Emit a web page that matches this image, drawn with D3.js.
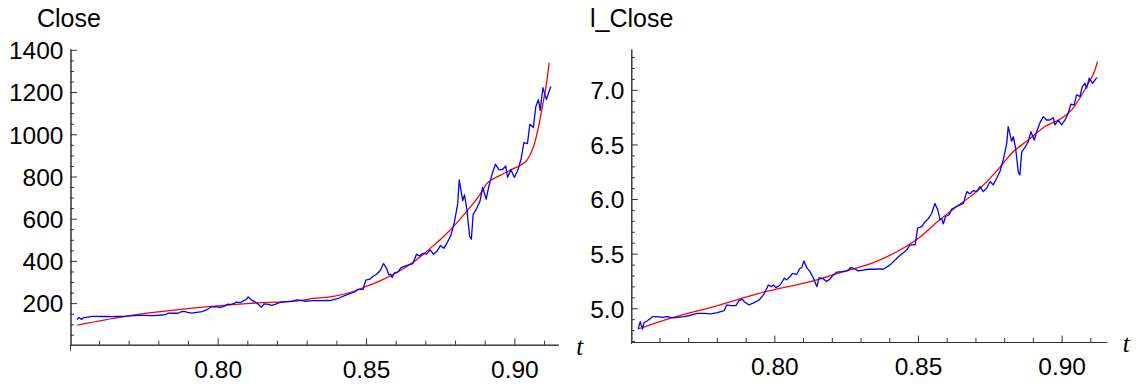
<!DOCTYPE html>
<html>
<head>
    <title>Close / l_Close</title>
    <script src="https://d3js.org/d3.v7.min.js"></script>
    <style>
        body { margin: 0; background: #fff; }
        text { font-family: "Liberation Sans", Arial, sans-serif; }
    </style>
</head>
<body>
    <svg width="1139" height="384"></svg>
    <script>
        // t of each reading of the blue series
        const tObs = [0.7526, 0.7533, 0.7541, 0.7547, 0.7558, 0.7576, 0.7593, 0.7610, 0.7628, 0.7645,
            0.7663, 0.7686, 0.7709, 0.7732, 0.7755, 0.7779, 0.7802, 0.7825, 0.7834, 0.7848,
            0.7866, 0.7877, 0.7889, 0.7895, 0.7912, 0.7929, 0.7947, 0.7962, 0.7974, 0.7979,
            0.7989, 0.7997, 0.8005, 0.8020, 0.8035, 0.8043, 0.8055, 0.8063, 0.8078, 0.8089,
            0.8095, 0.8103, 0.8113, 0.8124, 0.8136, 0.8148, 0.8156, 0.8171, 0.8182, 0.8194,
            0.8205, 0.8217, 0.8235, 0.8252, 0.8267, 0.8281, 0.8292, 0.8310, 0.8327, 0.8345,
            0.8368, 0.8379, 0.8403, 0.8432, 0.8461, 0.8472, 0.8490, 0.8499, 0.8513, 0.8524,
            0.8536, 0.8548, 0.8559, 0.8569, 0.8577, 0.8583, 0.8588, 0.8596, 0.8608, 0.8617,
            0.8629, 0.8646, 0.8658, 0.8670, 0.8681, 0.8692, 0.8704, 0.8716, 0.8727, 0.8739,
            0.8751, 0.8762, 0.8774, 0.8785, 0.8797, 0.8809, 0.8814, 0.8826, 0.8832, 0.8840,
            0.8849, 0.8855, 0.8861, 0.8872, 0.8884, 0.8893, 0.8905, 0.8913, 0.8925, 0.8936,
            0.8948, 0.8959, 0.8971, 0.8977, 0.8988, 0.9000, 0.9012, 0.9023, 0.9032, 0.9044,
            0.9052, 0.9064, 0.9072, 0.9081, 0.9087, 0.9096, 0.9108, 0.9116, 0.9123];

        // l_Close readings (Close = e^l_Close)
        const lClose = [4.810, 4.878, 4.810, 4.870, 4.886, 4.923, 4.923, 4.917, 4.923, 4.911,
            4.917, 4.923, 4.936, 4.954, 4.954, 4.948, 4.960, 4.978, 5.030, 5.024,
            5.024, 5.070, 5.082, 5.060, 5.030, 5.051, 5.076, 5.122, 5.183, 5.213,
            5.198, 5.213, 5.189, 5.213, 5.275, 5.260, 5.290, 5.320, 5.311, 5.366,
            5.372, 5.433, 5.372, 5.335, 5.275, 5.198, 5.280, 5.268, 5.244, 5.268,
            5.305, 5.330, 5.335, 5.342, 5.372, 5.360, 5.342, 5.350, 5.357, 5.357,
            5.360, 5.357, 5.397, 5.472, 5.534, 5.580, 5.580, 5.733, 5.747, 5.790,
            5.820, 5.870, 5.960, 5.900, 5.810, 5.820, 5.772, 5.840, 5.854, 5.906,
            5.925, 5.946, 5.960, 6.068, 6.047, 6.077, 6.068, 6.114, 6.068, 6.099,
            6.160, 6.130, 6.190, 6.250, 6.360, 6.510, 6.664, 6.530, 6.570, 6.465,
            6.250, 6.220, 6.430, 6.470, 6.526, 6.617, 6.540, 6.617, 6.700, 6.755,
            6.724, 6.724, 6.745, 6.679, 6.724, 6.679, 6.724, 6.786, 6.868, 6.862,
            6.954, 6.939, 7.030, 7.060, 7.015, 7.107, 7.060, 7.090, 7.112];

        // fitted curve for Close
        const tFitClose = [0.7527, 0.7715, 0.7940, 0.8109, 0.8278, 0.8322, 0.8390, 0.8469, 0.8491, 0.8547,
            0.8604, 0.8660, 0.8716, 0.8772, 0.8828, 0.8884, 0.8907, 0.8952, 0.8997, 0.9019,
            0.9042, 0.9064, 0.9081, 0.9098, 0.9109, 0.9117];
        const fitClose = [96, 143, 180, 199, 212, 222, 232, 261, 274, 305,
            345, 395, 459, 530, 616, 715, 766, 805, 837, 852,
            876, 939, 1033, 1160, 1247, 1338];

        // fitted curve for l_Close
        const tFitLog = [0.7526, 0.7645, 0.7802, 0.7947, 0.8148, 0.8228, 0.8345, 0.8461, 0.8496,
            0.8576, 0.8634, 0.8704, 0.8785, 0.8826, 0.8884, 0.8942, 0.9000, 0.9035, 0.9070,
            0.9093, 0.9116, 0.9125];
        const fitLog = [4.81, 4.914, 5.025, 5.137, 5.26, 5.326, 5.418, 5.57, 5.63,
            5.81, 5.93, 6.068, 6.29, 6.42, 6.54, 6.664, 6.74, 6.816, 6.953,
            7.06, 7.18, 7.26];

        const tTicks = [0.80, 0.85, 0.90];
        const closeTicks = [200, 400, 600, 800, 1000, 1200, 1400];
        const lCloseTicks = [5.0, 5.5, 6.0, 6.5, 7.0];

        const closeObs = lClose.map(v => Math.exp(v));

        const svg = d3.select("svg");

        function drawPanel(p) {
            const g = svg.append("g");
            const x = d3.scaleLinear().domain(p.xDomain).range(p.xRange);
            const y = d3.scaleLinear().domain(p.yDomain).range(p.yRange);
            const axisColor = "#333";

            // minor ticks
            const xMinor = d3.range(76, 92).map(d => d / 100).filter(d => !tTicks.some(m => Math.abs(m - d) < 1e-6));
            g.append("g")
             .attr("transform", `translate(0,${p.yRange[0]})`)
             .call(d3.axisBottom(x).tickValues(xMinor).tickSizeInner(-4).tickSizeOuter(0).tickFormat(""));
            g.append("g")
             .attr("transform", `translate(${p.xRange[0]},0)`)
             .call(d3.axisLeft(y).tickValues(p.yMinor).tickSizeInner(-3.5).tickSizeOuter(0).tickFormat(""));

            // major ticks + labels
            g.append("g")
             .attr("transform", `translate(0,${p.yRange[0]})`)
             .call(d3.axisBottom(x).tickValues(tTicks).tickSizeInner(-6.5).tickSizeOuter(0)
                    .tickPadding(p.xPad).tickFormat(d3.format(".2f")));
            const gy = g.append("g")
             .attr("transform", `translate(${p.xRange[0]},0)`)
             .call(d3.axisLeft(y).tickValues(p.yTicks).tickSizeInner(-6.5).tickSizeOuter(0)
                    .tickPadding(7).tickFormat(p.yFormat));
            gy.selectAll("text").attr("dy", "0.36em");

            g.selectAll(".domain, .tick line").attr("stroke", axisColor).attr("stroke-width", 1);
            g.selectAll(".tick text").attr("fill", "#000").style("font-size", "24.5px")
             .style("font-family", '"Liberation Sans", Arial, sans-serif');

            // small overhang of the axes at the crossing
            g.append("line")
             .attr("x1", p.xRange[0]).attr("x2", p.xRange[0])
             .attr("y1", p.yRange[0]).attr("y2", p.yRange[0] + p.overhang)
             .attr("stroke", axisColor);

            // title and axis symbol
            g.append("text").attr("x", p.titleX).attr("y", 27)
             .style("font-size", "25px").text(p.title);
            g.append("text").attr("x", p.xRange[1] + p.tGap).attr("y", p.yRange[0] + 10)
             .style("font-size", "25px").style("font-style", "italic")
             .style("font-family", '"Liberation Serif", "Times New Roman", serif')
             .text("t");

            const line = d3.line().x(d => x(d[0])).y(d => y(d[1]));
            g.append("path")
             .datum(d3.zip(p.fitT, p.fitV))
             .attr("fill", "none").attr("stroke", "#ff0000").attr("stroke-width", 1.3)
             .attr("d", line.curve(d3.curveMonotoneX));
            g.append("path")
             .datum(d3.zip(tObs, p.obs))
             .attr("fill", "none").attr("stroke", "#0000ff").attr("stroke-width", 1.3)
             .attr("stroke-linejoin", "round")
             .attr("d", line.curve(d3.curveLinear));
        }

        drawPanel({
            title: "Close", titleX: 37,
            xDomain: [0.7504, 0.9148], xRange: [70.5, 558.3],
            yDomain: [3, 1405], yRange: [344.7, 48.8],
            yTicks: closeTicks, yMinor: d3.range(50, 1400, 50).filter(d => d % 200 !== 0),
            yFormat: d3.format("d"), xPad: 16, overhang: 6, tGap: 18,
            obs: closeObs, fitT: tFitClose, fitV: fitClose
        });

        drawPanel({
            title: "l_Close", titleX: 590,
            xDomain: [0.7502, 0.9157], xRange: [631.3, 1106.7],
            yDomain: [4.691, 7.373], yRange: [342, 49.1],
            yTicks: lCloseTicks, yMinor: d3.range(47, 74).map(d => d / 10).filter(d => Math.round(d * 10) % 5 !== 0),
            yFormat: d3.format(".1f"), xPad: 15.5, overhang: 2, tGap: 16,
            obs: lClose, fitT: tFitLog, fitV: fitLog
        });
    </script>
</body>
</html>
